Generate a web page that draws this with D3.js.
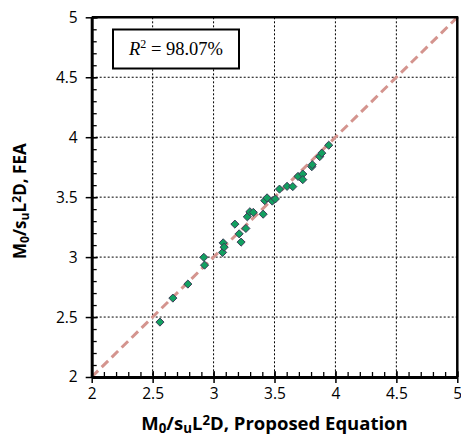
<!DOCTYPE html>
<html><head><meta charset="utf-8">
<script src="https://cdn.jsdelivr.net/npm/d3@7"></script>
<style>body{margin:0;background:#fff}svg{display:block}</style>
</head><body>
<svg id="c" width="461" height="439"></svg>
<script>
const proposed = [2.560,2.666,2.789,2.920,2.926,3.074,3.079,3.087,3.175,3.210,3.226,3.265,3.277,3.298,3.326,3.407,
  3.420,3.439,3.482,3.507,3.541,3.603,3.650,3.693,3.732,3.732,3.806,3.810,3.871,3.888,3.945];
const fea = [2.458,2.658,2.775,2.998,2.933,3.039,3.119,3.083,3.275,3.194,3.125,3.239,3.336,3.378,3.373,3.358,
  3.471,3.494,3.467,3.485,3.567,3.590,3.588,3.673,3.693,3.646,3.754,3.771,3.838,3.867,3.933];
const majorTicks = [2,2.5,3,3.5,4,4.5,5];
const tickLabels = ["2","2.5","3","3.5","4","4.5","5"];
const minorTicks = d3.range(20,51).map(d=>d/10);
const r2Text = "98.07%";

const svg = d3.select("#c");
const L=91.7,R=457.3,T=17.3,B=377;
const x = d3.scaleLinear().domain([2,5]).range([L,R]);
const y = d3.scaleLinear().domain([2,5]).range([B,T]);

// grid
const grid = svg.append("g").attr("stroke","#000").attr("stroke-width",1).attr("stroke-dasharray","2,2");
majorTicks.slice(1,-1).forEach(v=>{
  grid.append("line").attr("x1",x(v)).attr("x2",x(v)).attr("y1",T).attr("y2",B);
  grid.append("line").attr("y1",y(v)).attr("y2",y(v)).attr("x1",L).attr("x2",R);
});

// 1:1 line
svg.append("line").attr("x1",x(2)).attr("y1",y(2)).attr("x2",x(5)).attr("y2",y(5))
  .attr("stroke","#d4948e").attr("stroke-width",3).attr("stroke-dasharray","9,5");

// points
const diamond = d3.symbol().type(d3.symbolDiamond2).size(42);
svg.append("g").selectAll("path").data(proposed).join("path")
  .attr("d",diamond)
  .attr("transform",(d,i)=>`translate(${x(d)},${y(fea[i])})`)
  .attr("fill","#12a060").attr("stroke","#3c3c58").attr("stroke-width",1);

// frame top/right
svg.append("line").attr("x1",L).attr("x2",R+1).attr("y1",T).attr("y2",T).attr("stroke","#000").attr("stroke-width",2.5);
svg.append("line").attr("x1",R).attr("x2",R).attr("y1",T).attr("y2",B).attr("stroke","#000").attr("stroke-width",2.5);

// axes with minor ticks
const xMinor = d3.axisBottom(x).tickValues(minorTicks).tickSize(-5).tickFormat("");
const yMinor = d3.axisLeft(y).tickValues(minorTicks).tickSize(-5).tickFormat("");
svg.append("g").attr("transform",`translate(0,${B})`).call(xMinor).call(g=>g.select(".domain").remove())
  .selectAll("line").attr("stroke-width",1.3);
svg.append("g").attr("transform",`translate(${L},0)`).call(yMinor).call(g=>g.select(".domain").remove())
  .selectAll("line").attr("stroke-width",1.3);

const xAxis = d3.axisBottom(x).tickValues(majorTicks).tickSizeInner(6).tickSizeOuter(0).tickPadding(5)
  .tickFormat((d,i)=>tickLabels[i]);
const yAxis = d3.axisLeft(y).tickValues(majorTicks).tickSizeInner(6).tickSizeOuter(0).tickPadding(8)
  .tickFormat((d,i)=>tickLabels[i]);
const gx = svg.append("g").attr("transform",`translate(0,${B})`).call(xAxis);
const gy = svg.append("g").attr("transform",`translate(${L},0)`).call(yAxis);
[gx,gy].forEach(g=>{
  g.select(".domain").attr("stroke-width",3);
  g.selectAll(".tick line").attr("stroke-width",1.5).each(function(){
    const l=d3.select(this);
    if(l.attr("y2")) l.attr("y1",-6); else l.attr("x1",6);
  });
  g.selectAll("text").attr("font-family","'Open Sans',sans-serif").attr("font-size",15.5).attr("fill","#000");
});

// axis titles
function title(t, rest, fs){
  const s = fs*0.72;
  t.append("tspan").text("M");
  t.append("tspan").attr("dy",3).attr("font-size",s).text("0");
  t.append("tspan").attr("dy",-3).text("/s");
  t.append("tspan").attr("dy",3).attr("font-size",s).text("u");
  t.append("tspan").attr("dy",-3).text("L");
  t.append("tspan").attr("dy",-5).attr("font-size",s).text("2");
  t.append("tspan").attr("dy",5).text(rest);
}
const xt = svg.append("text").attr("x",(L+R)/2).attr("y",430).attr("text-anchor","middle")
  .attr("font-family","'Open Sans',sans-serif").attr("font-weight","bold").attr("font-size",18.5);
title(xt,"D, Proposed Equation",18.5);

const yt = svg.append("text").attr("transform",`translate(26,${(T+B)/2 + 4}) rotate(-90)`).attr("text-anchor","middle")
  .attr("font-family","'Open Sans',sans-serif").attr("font-weight","bold").attr("font-size",17);
title(yt,"D, FEA",17);

// R2 box
svg.append("rect").attr("x",113).attr("y",29.5).attr("width",126).attr("height",39)
  .attr("fill","#fff").attr("stroke","#000").attr("stroke-width",2);
const rt = svg.append("text").attr("x",176).attr("y",55).attr("text-anchor","middle")
  .attr("font-family","'Liberation Serif',serif").attr("font-size",18.5);
rt.append("tspan").attr("font-style","italic").text("R");
rt.append("tspan").attr("dy",-7).attr("font-size",12).text("2");
rt.append("tspan").attr("dy",7).text(" = " + r2Text);
</script>
</body></html>
